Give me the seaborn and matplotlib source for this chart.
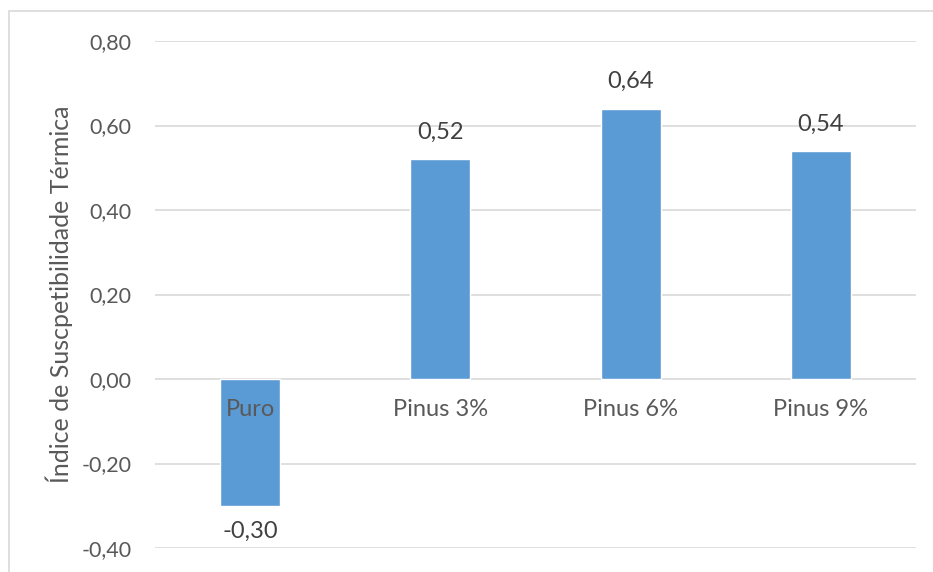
import matplotlib
matplotlib.use("Agg")
import matplotlib.pyplot as plt
import seaborn as sns
import pandas as pd
from matplotlib.patches import Rectangle

# Data
categories = ["Puro", "Pinus 3%", "Pinus 6%", "Pinus 9%"]
values = [-0.30, 0.52, 0.64, 0.54]
y_ticks = [-0.40, -0.20, 0.00, 0.20, 0.40, 0.60, 0.80]

df = pd.DataFrame({"cat": categories, "val": values})

sns.set_style("white")
plt.rcParams["font.family"] = ["Lato", "DejaVu Sans"]
text_color = "#595959"
grid_color = "#D9D9D9"
fs = 17

fig = plt.figure(figsize=(9.33, 5.72), dpi=100)
ax = fig.add_axes([155 / 933, 1 - 548 / 572, 761 / 933, 507 / 572])

sns.barplot(data=df, x="cat", y="val", order=categories, color="#5B9BD5",
            saturation=1, width=0.315, ax=ax)

ax.set_xlim(-0.5, 3.5)
ax.set_ylim(-0.4, 0.8)
ax.set_yticks(y_ticks)
ax.set_yticklabels([f"{t:.2f}".replace(".", ",") for t in y_ticks],
                   fontsize=15.5, color=text_color)
ax.tick_params(axis="y", length=0, pad=17)
ax.set_xticks([])
ax.set_xlabel("")
ax.set_ylabel("Índice de Suscpetibilidade Térmica", fontsize=18, color=text_color)
ax.yaxis.set_label_coords(-0.108, 0.5)

for s in ax.spines.values():
    s.set_visible(False)
ax.set_axisbelow(True)
ax.grid(axis="y", color=grid_color, linewidth=1.2)

# category labels sitting on the zero line
for i, c in enumerate(categories):
    ax.annotate(c, (i, 0), xytext=(0, -31), textcoords="offset pixels",
                ha="center", va="center", fontsize=fs, color=text_color)

# value labels
for i, v in enumerate(values):
    off = 27 if v >= 0 else -26
    ax.annotate(f"{v:.2f}".replace(".", ","), (i, v), xytext=(0, off),
                textcoords="offset pixels", ha="center", va="center",
                fontsize=fs, color="#404040")

# chart border
fig.patches.append(Rectangle((8.5 / 933, -0.1), 1.2, 1 - 11 / 572 + 0.1,
                             transform=fig.transFigure, fill=False,
                             edgecolor=grid_color, linewidth=1.2))

fig.savefig("out.png", dpi=100)
